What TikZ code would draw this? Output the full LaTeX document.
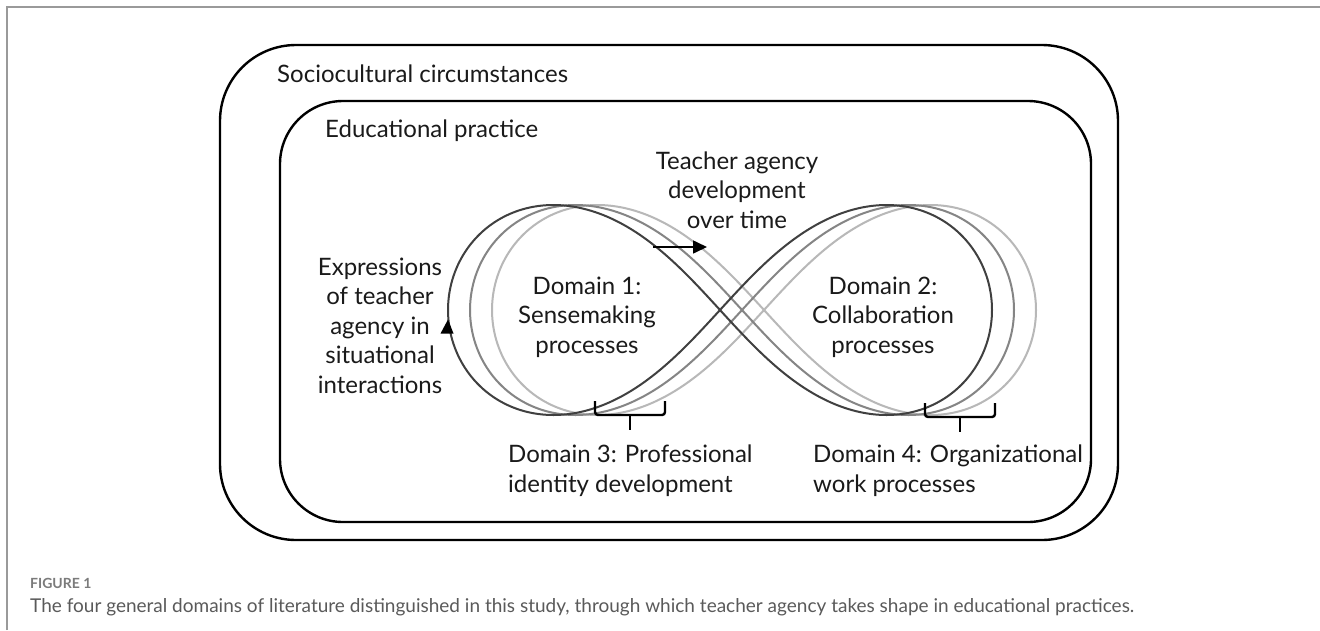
\documentclass[tikz,border=0pt]{standalone}
\usepackage{fontspec}
\setmainfont{Lato}
\usetikzlibrary{arrows.meta}
\definecolor{ink}{HTML}{1A1A1A}
\definecolor{pagerule}{HTML}{9A9A9A}
\definecolor{captiongray}{HTML}{5A5A5A}
\definecolor{darkloop}{HTML}{404040}
\definecolor{midloop}{HTML}{858585}
\definecolor{lightloop}{HTML}{B8B8B8}
\begin{document}
\begin{tikzpicture}[x=1pt,y=-1pt,
  label/.style={font=\fontsize{24}{29.5}\selectfont, text=ink, inner sep=0pt},
  ring/.style={draw=black, line width=2.4pt},
  loopline/.style={line width=2pt},
  bracket/.style={draw=black, line width=2.4pt, rounded corners=3pt},
  caphead/.style={font=\fontsize{14}{16}\selectfont\bfseries, text=captiongray!80, inner sep=0pt},
  captext/.style={font=\fontsize{19}{22}\selectfont, text=captiongray, inner sep=0pt}]
\useasboundingbox (0,0) rectangle (1320,630);
\fill[white] (0,0) rectangle (1320,630);

% page rules
\draw[pagerule, line width=1.5pt] (7,630) -- (7,7) -- (1320,7);

% nested contexts
\draw[ring, rounded corners=76pt] (220,45) rectangle (1118,540);
\draw[ring, rounded corners=63pt] (280,101) rectangle (1091,522);

\node[label, anchor=base west] (socio) at (277,82) {Sociocultural circumstances};
\node[label, anchor=base west] (edu) at (325,137) {Educational practice};

% three overlapping figure-eight loops, shifted over time
\foreach \dx/\col in {44/lightloop, 22/midloop, 0/darkloop}{
  \draw[loopline, \col] plot[domain=0:360, samples=241, smooth]
    ({720+\dx+272*cos(\x)/(1+sin(\x)*sin(\x))},
     {310+297*sin(\x)*cos(\x)/(1+sin(\x)*sin(\x))});
}

% direction marks
\coordinate (devstart) at (653,247);
\coordinate (devend) at (707,247);
\draw[line width=1.6pt, -{Triangle[length=14pt,width=13pt]}] (devstart) -- (devend);
\fill[black] (440.5,333.5) -- (448,319.5) -- (453.5,333.5) -- cycle;

% brackets under the loops
\draw[bracket] (595,401) -- (595,415) -- (665,415) -- (665,401);
\draw[bracket] (630,415) -- (630,430);
\draw[bracket] (925,403) -- (925,417) -- (995,417) -- (995,403);
\draw[bracket] (960,417) -- (960,432);

% labels (base anchor sits on the last line)
\node[label, align=center, anchor=base] (dev) at (737,228) {Teacher agency\\development\\over time};
\node[label, align=center, anchor=base] (expr) at (380,393) {Expressions\\of teacher\\agency in\\situational\\interactions};
\node[label, align=center, anchor=base] (d1) at (587,353) {Domain 1:\\Sensemaking\\processes};
\node[label, align=center, anchor=base] (d2) at (883,353) {Domain 2:\\Collaboration\\processes};
\node[label, align=left, anchor=base west] (d3) at (508,492) {Domain 3: Professional\\identity development};
\node[label, align=left, anchor=base west] (d4) at (813,492) {Domain 4: Organizational\\work processes};

% caption
\node[caphead, anchor=base west] (fig) at (30,588) {FIGURE 1};
\node[captext, anchor=base west] (cap) at (30,612) {The four general domains of literature distinguished in this study, through which teacher agency takes shape in educational practices.};
\end{tikzpicture}
\end{document}
